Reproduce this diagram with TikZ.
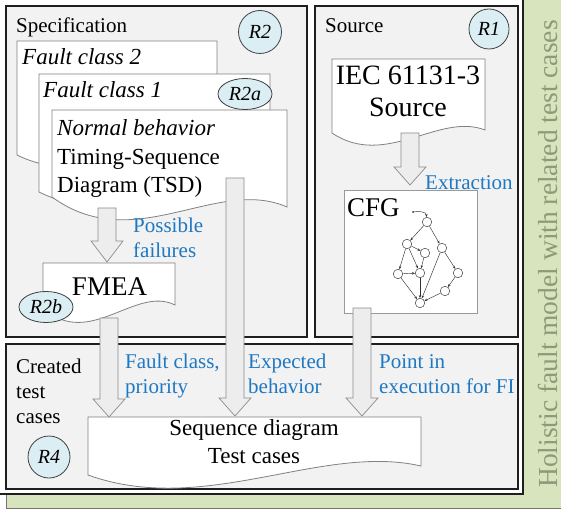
\documentclass[tikz,border=0pt]{standalone}
\usepackage{fontspec}
\setmainfont{Liberation Serif}
\usetikzlibrary{shapes.geometric,arrows.meta,calc}
\definecolor{boxfill}{HTML}{F2F2F2}
\definecolor{bandgreen}{HTML}{D7E4BD}
\definecolor{bandtext}{HTML}{8C9A7A}
\definecolor{lblblue}{HTML}{1E78C2}
\definecolor{reqfill}{HTML}{DAEEF3}
\tikzset{
 box/.style={fill=boxfill, draw=black!88, line width=1.6pt},
 docst/.style={fill=white, draw=black!50, line width=0.8pt},
 blockarr/.style={fill=black!7, draw=black!45, line width=0.7pt},
 req/.style={ellipse, fill=reqfill, draw=black!75, line width=0.8pt, inner sep=0pt, font=\fontsize{20}{20}\selectfont\itshape},
 lbl/.style={inner sep=0pt, anchor=base west, align=left, font=\fontsize{21}{25}\selectfont},
 bluelbl/.style={lbl, text=lblblue},
 doctxt/.style={inner sep=0pt, font=\fontsize{23}{28.5}\selectfont},
 gnode/.style={circle, draw=black!80, fill=white, line width=0.45pt, minimum size=9.5pt, inner sep=0pt},
 gedge/.style={draw=black!80, line width=0.45pt, -{Stealth[length=3pt,width=2.4pt]}},
}
% x0, top, x1, yLeft, yRight, D, U
\newcommand{\docshape}[7]{%
  \filldraw[docst] (#1,#2) -- (#3,#2) -- (#3,#5) .. controls ({#1+0.7*(#3-#1)},{#5-#7}) and ({#1+0.35*(#3-#1)},{#4+#6}) .. (#1,#4) -- cycle;}
% start coord, end coord, head length
\newcommand{\blockarrow}[3]{%
  \path[blockarr] let \p1=(#1), \p2=(#2) in
   (\x1-9pt,\y1) -- (\x1+9pt,\y1) -- (\x1+9pt,\y2+#3pt) -- (\x1+16pt,\y2+#3pt) -- (\x2,\y2) -- (\x1-16pt,\y2+#3pt) -- (\x1-9pt,\y2+#3pt) -- cycle;}
\begin{document}
\begin{tikzpicture}[x=1pt,y=-1pt]
\useasboundingbox (0,0) rectangle (561,510);
% green band and white main area
\filldraw[fill=bandgreen, draw=black!55, line width=0.8pt] (6,-5) rectangle (566,508.5);
\fill[white] (-5,-5) rectangle (523,494);
\draw[black!88, line width=1.6pt] (523,-5) -- (523,494) -- (-5,494);
\node[rotate=90, anchor=base, inner sep=0pt, text=bandtext, font=\fontsize{27.5}{30}\selectfont] (hol) at (557,254) {Holistic fault model with related test cases};
% boxes
\filldraw[box] (6,6) rectangle (307,337);
\filldraw[box] (315,6) rectangle (518,337);
\filldraw[box] (6,344) rectangle (518,489);
% specification documents
\docshape{17}{41}{217}{155}{152}{35}{18}
\node[doctxt, anchor=base west, font=\fontsize{23}{28.5}\selectfont\itshape] (fc2) at (22,65) {Fault class 2};
\docshape{39}{74}{270}{192}{189}{40}{20}
\node[doctxt, anchor=base west, font=\fontsize{23}{28.5}\selectfont\itshape] (fc1) at (43,98) {Fault class 1};
\docshape{52}{110}{287}{197}{207}{60}{31}
\node[doctxt, anchor=base west, align=left] (nb) at (57,193) {\textit{Normal behavior}\\Timing-Sequence\\Diagram (TSD)};
\docshape{43}{263}{175}{308}{305}{42}{20}
\node[inner sep=0pt, anchor=base, font=\fontsize{27}{30}\selectfont] (fmea) at (109.5,295) {FMEA};
% source documents
\docshape{332}{59}{485}{133}{130}{36}{18}
\node[inner sep=0pt, anchor=base, align=center, font=\fontsize{28}{32}\selectfont] (iec) at (408,117) {IEC 61131-3\\Source};
\node[draw=black!40, fill=white, line width=0.8pt, minimum width=133pt, minimum height=123pt, anchor=north west, inner sep=0pt] (cfg) at (344,190) {};
\node[inner sep=0pt, anchor=base west, font=\fontsize{27}{30}\selectfont] (cfgt) at (347,217) {CFG};
% CFG graph
\coordinate (gs) at (413,212);
\fill[black!80] (gs) circle (1pt);
\node[gnode] (ga) at (427,222) {};
\node[gnode] (gb) at (407,244) {};
\node[gnode] (gc) at (425,253) {};
\node[gnode] (gd) at (442,248) {};
\node[gnode] (ge) at (398,274) {};
\node[gnode] (gf) at (420,273) {};
\node[gnode] (gg) at (458,273) {};
\node[gnode] (gh) at (445,291) {};
\node[gnode] (gi) at (420,303) {};
\draw[gedge] (gs) to[out=10,in=95] (ga);
\draw[gedge] (ga) -- (gb);
\draw[gedge] (ga) -- (gd);
\draw[gedge] (gb) -- (gc);
\draw[gedge] (gb) -- (ge);
\draw[gedge] (gb) -- (gf);
\draw[gedge] (gc) -- (gf);
\draw[gedge] (ge) -- (gf);
\draw[gedge] (ge) -- (gi);
\draw[gedge] (gf) -- (gi);
\draw[gedge] (gd) -- (gg);
\draw[gedge] (gd) -- (gi);
\draw[gedge] (gg) -- (gh);
\draw[gedge] (gh) -- (gi);
% test case document
\docshape{88}{417}{421}{475}{466}{42}{23}
% block arrows
\coordinate (a1s) at (107,208); \coordinate (a1e) at (107,262);
\coordinate (a2s) at (109,318); \coordinate (a2e) at (109,417);
\coordinate (a3s) at (235,178); \coordinate (a3e) at (235,416);
\coordinate (a4s) at (362,308); \coordinate (a4e) at (362,416);
\coordinate (a5s) at (410,133); \coordinate (a5e) at (410,185);
\blockarrow{a1s}{a1e}{21}
\blockarrow{a2s}{a2e}{18}
\blockarrow{a3s}{a3e}{18}
\blockarrow{a4s}{a4e}{18}
\blockarrow{a5s}{a5e}{18}
\node[inner sep=0pt, anchor=base, align=center, font=\fontsize{23}{28}\selectfont] (tc) at (254,463) {Sequence diagram\\Test cases};
% labels
\node[lbl] (spec) at (16,33) {Specification};
\node[lbl] (src) at (325,33) {Source};
\node[lbl] (ctc) at (16,423) {Created\\test\\cases};
\node[bluelbl] (pf) at (133,258) {Possible\\failures};
\node[bluelbl] (ext) at (425,190) {Extraction};
\node[bluelbl] (fcp) at (125,393) {Fault class,\\priority};
\node[bluelbl] (eb) at (248,393) {Expected\\behavior};
\node[bluelbl] (pie) at (379,393) {Point in\\execution for FI};
% requirement markers
\node[req, minimum width=43pt, minimum height=43pt] (r2) at (260,32) {R2};
\node[req, minimum width=40pt, minimum height=40pt] (r1) at (489,29) {R1};
\node[req, minimum width=54pt, minimum height=31pt] (r2a) at (245,94) {R2a};
\node[req, minimum width=54pt, minimum height=31pt] (r2b) at (46,307) {R2b};
\node[req, minimum width=42pt, minimum height=42pt] (r4) at (49,457) {R4};
\end{tikzpicture}
\end{document}
